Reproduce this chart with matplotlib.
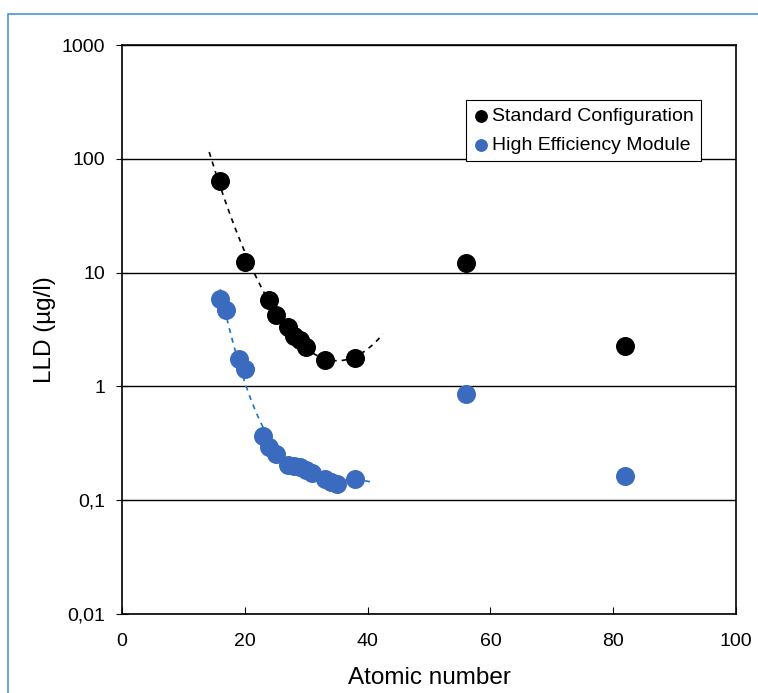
import numpy as np
import matplotlib.pyplot as plt
from matplotlib.patches import Rectangle

plt.rcParams['font.family'] = ['Liberation Sans', 'DejaVu Sans']

# Standard configuration
std_z = [16, 20, 24, 25, 27, 28, 29, 30, 33, 38, 56, 82]
std_lld = [63.8, 12.4, 5.7, 4.24, 3.33, 2.77, 2.56, 2.22, 1.71, 1.78, 12.1, 2.27]

# High efficiency module
hem_z = [16, 17, 19, 20, 23, 24, 25, 27, 28, 29, 30, 31, 33, 34, 35, 38, 56, 82]
hem_lld = [5.86, 4.69, 1.74, 1.42, 0.366, 0.293, 0.255, 0.204, 0.200, 0.197,
           0.184, 0.173, 0.153, 0.145, 0.139, 0.153, 0.857, 0.163]

yticks = [0.01, 0.1, 1, 10, 100, 1000]
ytick_labels = ['0,01', '0,1', '1', '10', '100', '1000']
xticks = [0, 20, 40, 60, 80, 100]

black = '#000000'
blue = '#3a6bbf'
blue_trend = '#1a75c8'


def trend(z, lld, deg, zmin, zmax):
    """Polynomial fit in log space over the light elements."""
    z = np.asarray(z, float)
    lld = np.asarray(lld, float)
    m = z < 50
    coef = np.polyfit(z[m], np.log10(lld[m]), deg)
    zz = np.linspace(zmin, zmax, 200)
    return zz, 10 ** np.polyval(coef, zz)


fig = plt.figure(figsize=(7.58, 6.93), dpi=100)
ax = fig.add_axes([122 / 758, 1 - 614 / 693, 614 / 758, 569 / 693])

zz, yy = trend(std_z, std_lld, 2, 14.2, 42.5)
ax.plot(zz, yy, ls=(0, (3, 3)), color=black, lw=1.2, zorder=2)
zz, yy = trend(hem_z, hem_lld, 3, 16, 40.5)
ax.plot(zz, yy, ls=(0, (3, 3)), color=blue_trend, lw=1.2, zorder=2)

ax.scatter(std_z, std_lld, s=160, color=black, zorder=3,
           label='Standard Configuration')
ax.scatter(hem_z, hem_lld, s=160, color=blue, zorder=3,
           label='High Efficiency Module')

ax.set_yscale('log')
ax.set_ylim(0.01, 1000)
ax.set_xlim(0, 100)
ax.set_yticks(yticks)
ax.set_yticklabels(ytick_labels)
ax.yaxis.set_minor_locator(plt.NullLocator())
ax.set_xticks(xticks)
ax.tick_params(axis='y', direction='inout', length=8, labelsize=14, pad=8)
ax.tick_params(axis='x', direction='in', length=5, labelsize=14, pad=14)
ax.grid(axis='y', color='black', lw=1)
for sp in ax.spines.values():
    sp.set_linewidth(1.2)

ax.set_xlabel('Atomic number', fontsize=17.5, labelpad=12)
ax.set_ylabel('LLD (\u00b5g/l)', fontsize=17.5, labelpad=4)

leg = ax.legend(loc='upper left', bbox_to_anchor=(0.56, 0.903), fontsize=14,
                markerscale=0.65, handletextpad=0.1, borderpad=0.35,
                labelspacing=0.6, fancybox=False, framealpha=1,
                edgecolor='black', borderaxespad=0, handlelength=0.9)
leg.get_frame().set_linewidth(0.8)

fig.add_artist(Rectangle((8 / 758, -0.1), 1.2, (693 - 14) / 693 + 0.1,
                         transform=fig.transFigure, fill=False,
                         edgecolor='#4a95d6', lw=1.2))

fig.savefig('out.png', dpi=100)
